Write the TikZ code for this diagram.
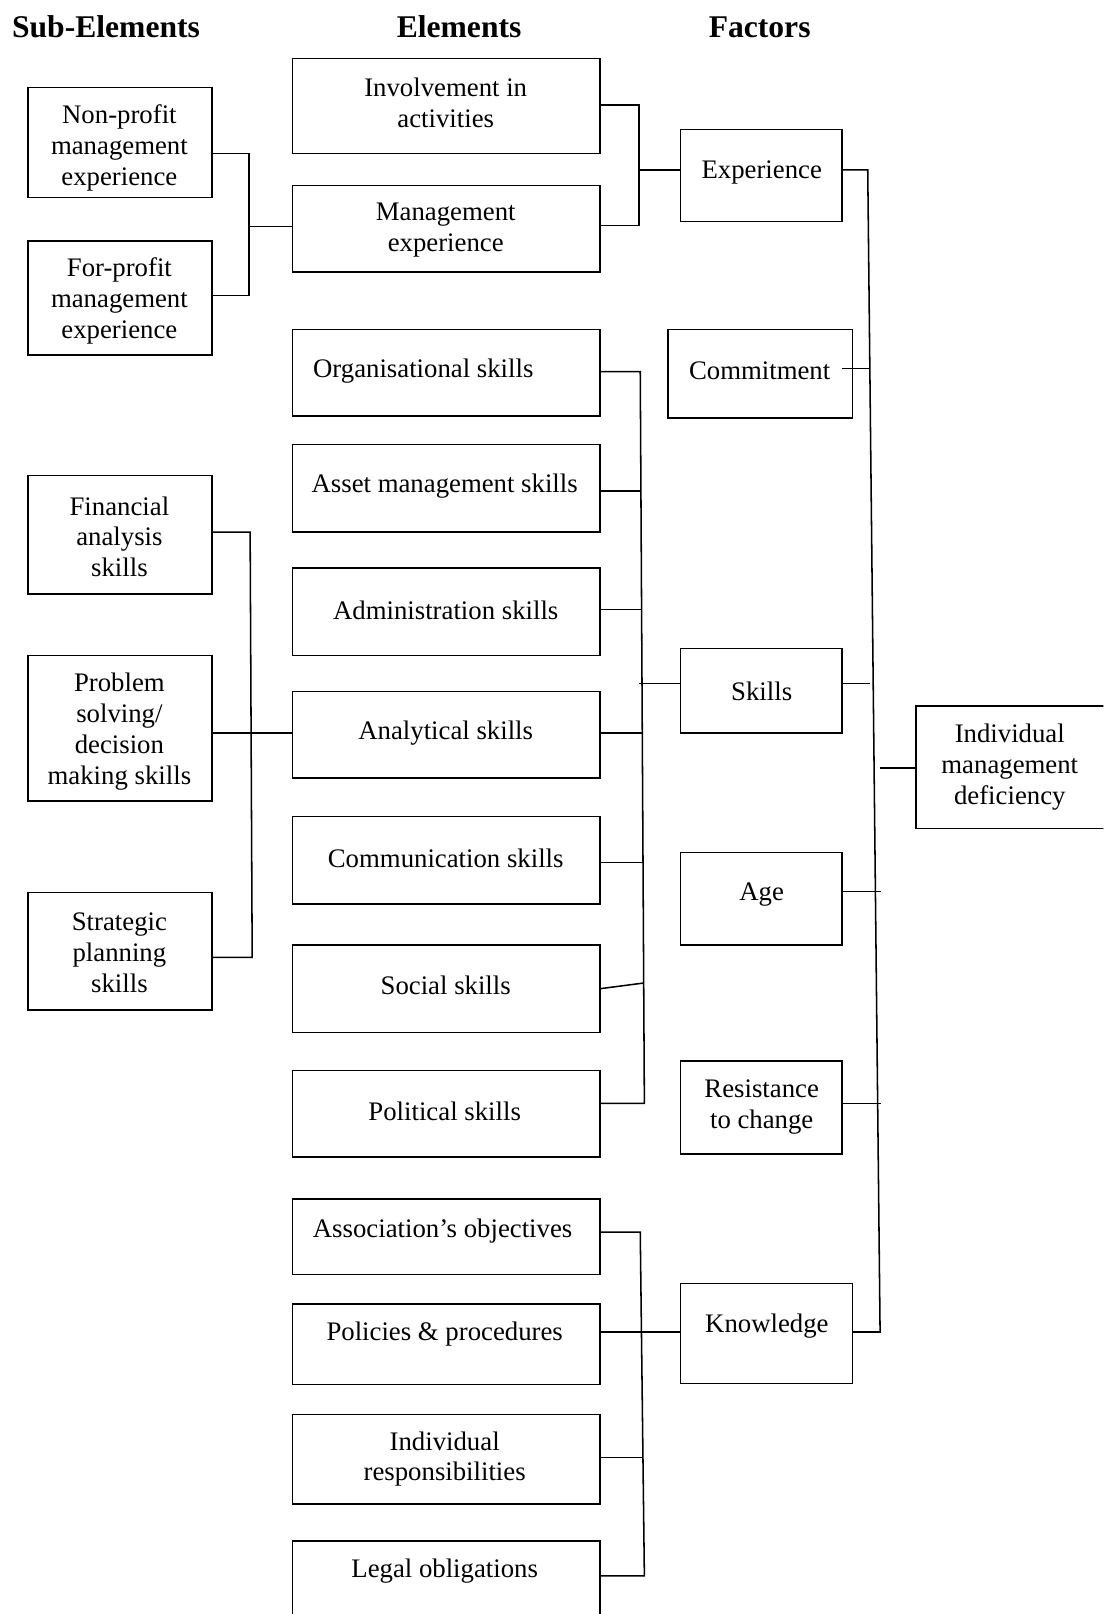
\documentclass[tikz,border=0pt]{standalone}
\usepackage{fontspec}
\setmainfont{Liberation Serif}
% framed cell: name, left, top, right, bottom
\newcommand\framedcell[5]{%
  \node[box, minimum width={#4-#2}, minimum height={#5-#3}] (#1)
    at ({(#2+#4)/2},{(#3+#5)/2}) {};}
\begin{document}
\begin{tikzpicture}[x=1pt,y=-1pt,
  box/.style={draw, line width=1.5pt, rectangle, inner sep=0pt, outer sep=0pt},
  txt/.style={align=center, inner sep=0pt, yshift=-2.5pt, font=\fontsize{26}{30}\selectfont},
  head/.style={inner sep=0pt, anchor=base, font=\fontsize{30.7}{34}\selectfont\bfseries},
  link/.style={line width=1.5pt}]
\useasboundingbox (0,0) rectangle (1072,1568);
\clip (0,0) rectangle (1072,1568);

% column headings
\node[head] (h-sub) at (103,36) {Sub-Elements};
\node[head] (h-el)  at (446,36) {Elements};
\node[head] (h-fac) at (738,36) {Factors};

% sub-elements
\framedcell{np}{27}{85}{206}{192}
\framedcell{fp}{27}{234}{206}{345}
\framedcell{fin}{27}{462}{206}{577}
\framedcell{prob}{27}{637}{206}{778}
\framedcell{strat}{27}{867}{206}{981}
\node[txt] (np-t)    at (116,141) {Non-profit\\management\\experience};
\node[txt] (fp-t)    at (116,290) {For-profit\\management\\experience};
\node[txt] (fin-t)   at (116,519) {Financial\\analysis\\skills};
\node[txt] (prob-t)  at (116,708) {Problem\\solving/\\decision\\making skills};
\node[txt] (strat-t) at (116,923) {Strategic\\planning\\skills};

% elements
\framedcell{inv}{284}{57}{583}{149}
\framedcell{mgt}{284}{180}{583}{264}
\framedcell{org}{284}{320}{583}{404}
\framedcell{asset}{284}{432}{583}{517}
\framedcell{admin}{284}{552}{583}{637}
\framedcell{anal}{284}{672}{583}{756}
\framedcell{comm}{284}{793}{583}{878}
\framedcell{soc}{284}{918}{583}{1003}
\framedcell{pol}{284}{1040}{583}{1124}
\framedcell{assoc}{284}{1165}{583}{1238}
\framedcell{polproc}{284}{1267}{583}{1345}
\framedcell{indiv}{284}{1374}{583}{1461}
\framedcell{legal}{284}{1497}{583}{1600}
\node[txt] (inv-t)     at (433,97)   {Involvement in\\activities};
\node[txt] (mgt-t)     at (433,221)  {Management\\experience};
\node[txt, anchor=west] (org-t) at (304,358) {Organisational skills};
\node[txt] (asset-t)   at (432,470)  {Asset management skills};
\node[txt] (admin-t)   at (433,590)  {Administration skills};
\node[txt] (anal-t)    at (433,710)  {Analytical skills};
\node[txt] (comm-t)    at (433,831)  {Communication skills};
\node[txt] (soc-t)     at (433,955)  {Social skills};
\node[txt] (pol-t)     at (432,1077) {Political skills};
\node[txt] (assoc-t)   at (430,1193) {Association’s objectives};
\node[txt] (polproc-t) at (432,1294) {Policies \& procedures};
\node[txt] (indiv-t)   at (432,1415) {Individual\\responsibilities};
\node[txt] (legal-t)   at (432,1524) {Legal obligations};

% factors
\framedcell{exp}{661}{126}{818}{215}
\framedcell{comt}{649}{320}{828}{406}
\framedcell{skl}{661}{630}{818}{712}
\framedcell{age}{661}{828}{818}{918}
\framedcell{res}{661}{1031}{818}{1121}
\framedcell{know}{661}{1247}{828}{1344}
\node[txt] (exp-t)  at (740,165)  {Experience};
\node[txt] (comt-t) at (738,358)  {Commitment};
\node[txt] (skl-t)  at (740,669)  {Skills};
\node[txt] (age-t)  at (740,867)  {Age};
\node[txt] (res-t)  at (740,1073) {Resistance\\to change};
\node[txt] (know-t) at (745,1286) {Knowledge};

% outcome
\framedcell{imd}{890}{686}{1090}{805}
\node[txt] (imd-t) at (981,743) {Individual\\management\\deficiency};

% sub-elements -> management experience
\coordinate (b1t) at (242,149);
\coordinate (b1b) at (242,287);
\coordinate (b1m) at (242,220);
\draw[link] (np.east |- b1t) -- (b1t) -- (b1b) -- (fp.east |- b1b);
\draw[link] (b1m) -- (mgt.west |- b1m);

% sub-elements -> analytical skills
\coordinate (b2t) at (243,517);
\coordinate (b2b) at (245,930);
\coordinate (b2m) at (244,712);
\draw[link] (fin.east |- b2t) -- (b2t) -- (b2b) -- (strat.east |- b2b);
\draw[link] (prob.east |- b2m) -- (anal.west |- b2m);

% elements -> experience
\coordinate (b3t) at (621,102);
\coordinate (b3b) at (621,219);
\coordinate (b3m) at (621,165);
\draw[link] (inv.east |- b3t) -- (b3t) -- (b3b) -- (mgt.east |- b3b);
\draw[link] (b3m) -- (exp.west |- b3m);

% elements -> skills
\coordinate (s-org)   at (622,361);
\coordinate (s-asset) at (622.7,477);
\coordinate (s-admin) at (623.3,592);
\coordinate (s-anal)  at (624,712);
\coordinate (s-comm)  at (624.7,838);
\coordinate (s-soc)   at (625.3,955);
\coordinate (s-pol)   at (626,1072);
\coordinate (s-skl)   at (621,664);
\draw[link] (org.east |- s-org) -- (s-org) -- (s-pol) -- (pol.east |- s-pol);
\draw[link] (asset.east |- s-asset) -- (s-asset);
\draw[link] (admin.east |- s-admin) -- (s-admin);
\draw[link] (anal.east |- s-anal) -- (s-anal);
\draw[link] (comm.east |- s-comm) -- (s-comm);
\draw[link] (soc.east) -- (s-soc);
\draw[link] (s-skl) -- (skl.west |- s-skl);

% elements -> knowledge
\coordinate (k-top) at (622,1197);
\coordinate (k-mid) at (623.2,1294);
\coordinate (k-ind) at (624.6,1416);
\coordinate (k-bot) at (626,1531);
\draw[link] (assoc.east |- k-top) -- (k-top) -- (k-bot) -- (legal.east |- k-bot);
\draw[link] (polproc.east |- k-mid) -- (know.west |- k-mid);
\draw[link] (indiv.east |- k-ind) -- (k-ind);

% factors -> individual management deficiency
\coordinate (f-top)  at (843,165);
\coordinate (f-bot)  at (855,1294);
\coordinate (f-comt) at (845,358);
\coordinate (f-skl)  at (845,664);
\coordinate (f-age)  at (856,866);
\coordinate (f-res)  at (856,1072);
\coordinate (f-imd)  at (855,746);
\draw[link] (exp.east |- f-top) -- (f-top) -- (f-bot) -- (know.east |- f-bot);
\draw[link] ([xshift=-10pt]comt.east |- f-comt) -- (f-comt);
\draw[link] (skl.east |- f-skl) -- (f-skl);
\draw[link] (age.east |- f-age) -- (f-age);
\draw[link] (res.east |- f-res) -- (f-res);
\draw[link] (f-imd) -- (imd.west |- f-imd);
\end{tikzpicture}
\end{document}
